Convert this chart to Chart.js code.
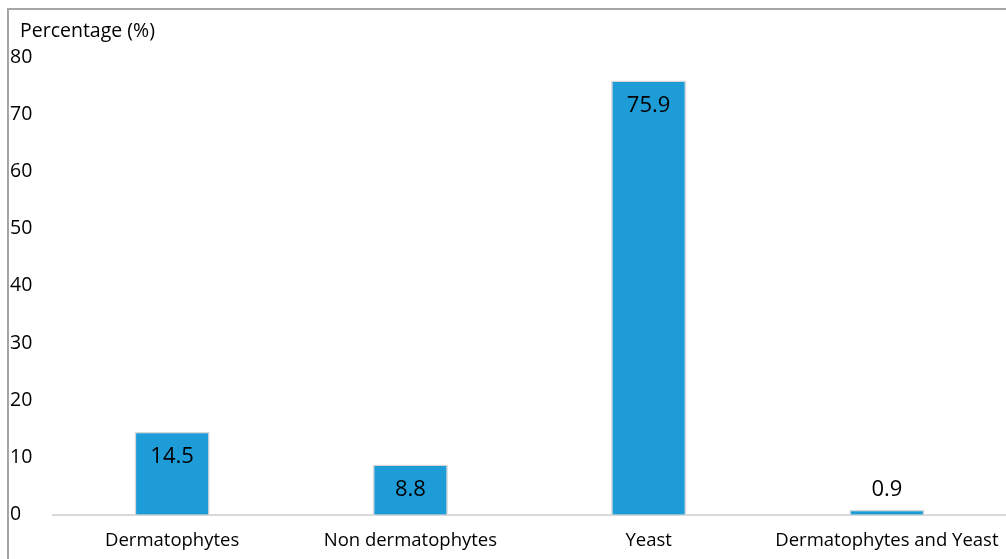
<!DOCTYPE html>
<html>
<head>
<meta charset="utf-8">
<script src="https://cdn.jsdelivr.net/npm/chart.js@4.4.0/dist/chart.umd.min.js"></script>
<style>
  body { margin: 0; background: #fff; overflow: hidden; }
  #marco { position: absolute; left: 7px; top: 8px; width: 1100px; height: 700px; border: 2px solid #a6a6a6; }
  #caja { position: absolute; left: 0; top: 0; width: 1006px; height: 559px; }
</style>
</head>
<body>
<div id="marco"></div>
<div id="caja"><canvas id="grafico"></canvas></div>
<script>
var categorias = ["Dermatophytes", "Non dermatophytes", "Yeast", "Dermatophytes and Yeast"];
var porcentajes = [14.5, 8.8, 75.9, 0.9];
var ticks_y = [0, 10, 20, 30, 40, 50, 60, 70, 80];

var fuente = "'Open Sans', 'Noto Sans', sans-serif";

// etiquetas de valor y titulo del eje
var plugin_etiquetas = {
    id: "etiquetas",
    afterDatasetsDraw: function (chart) {
        var ctx = chart.ctx;
        var meta = chart.getDatasetMeta(0);
        ctx.save();
        ctx.font = "22px " + fuente;
        ctx.fillStyle = "#000";
        ctx.textAlign = "center";
        ctx.textBaseline = "middle";
        meta.data.forEach(function (bar, i) {
            var v = porcentajes[i];
            var y = v > 5 ? bar.y + 25 : bar.y - 20;
            ctx.fillText(v.toFixed(1), bar.x, y);
        });
        ctx.font = "19.5px " + fuente;
        ctx.textAlign = "left";
        ctx.fillText("Percentage (%)", 20, 31);
        ctx.restore();
    }
};

new Chart(document.getElementById("grafico"), {
    type: "bar",
    data: {
        labels: categorias,
        datasets: [{
            data: porcentajes,
            backgroundColor: "#1e9cd7",
            borderColor: "#d6d6d6",
            borderWidth: 1.5,
            barPercentage: 0.63,
            categoryPercentage: 0.5
        }]
    },
    options: {
        responsive: true,
        maintainAspectRatio: false,
        animation: false,
        layout: { padding: { left: 10, top: 57, right: 0, bottom: 0 } },
        plugins: { legend: { display: false }, tooltip: { enabled: false } },
        scales: {
            x: {
                grid: { display: false },
                border: { display: true, color: "#d9d9d9", width: 2 },
                ticks: { color: "#000", font: { family: fuente, size: 18.5 }, padding: 7, maxRotation: 0 }
            },
            y: {
                min: 0,
                max: 80,
                afterBuildTicks: function (axis) {
                    axis.ticks = ticks_y.map(function (v) { return { value: v }; });
                },
                afterFit: function (axis) { axis.width = 43; },
                grid: { display: false },
                border: { display: false },
                ticks: { color: "#000", font: { family: fuente, size: 19.5 }, crossAlign: "far", padding: 6 }
            }
        }
    },
    plugins: [plugin_etiquetas]
});
</script>
</body>
</html>
